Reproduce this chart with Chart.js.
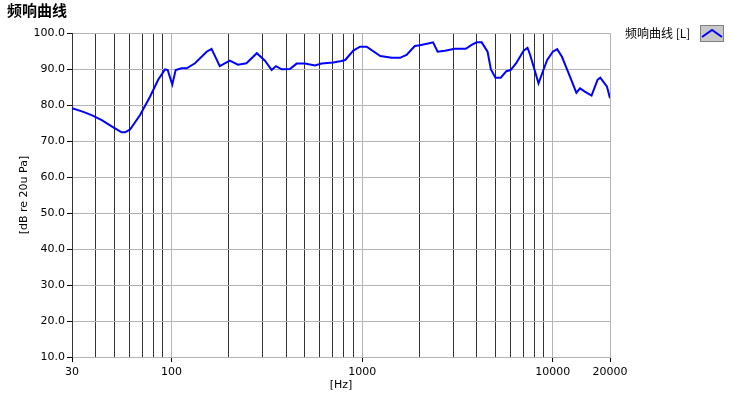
<!DOCTYPE html>
<html lang="zh">
<head>
<meta charset="UTF-8">
<title>频响曲线</title>
<script src="https://cdn.jsdelivr.net/npm/chart.js@4/dist/chart.umd.min.js"></script>
<style>
  html, body { margin: 0; padding: 0; background: #fff; }
  #wrap { width: 739px; height: 397px; position: relative; }
</style>
</head>
<body>
<div id="wrap"><canvas id="grafico"></canvas></div>
<script>
// dados
var freqs = [30, 34.4, 38, 43, 49.4, 54.7, 57, 60.5, 68.3, 77, 85, 92.3, 95.4, 100.8, 105, 112.8, 120, 132.6, 152.7,
  162, 179, 202, 223, 247, 280, 309, 335, 353, 378, 418, 453, 500, 566, 612, 705, 779,
  815, 899, 975, 1056, 1246, 1432, 1580, 1710, 1890, 2010, 2220, 2357, 2490, 2720, 3060, 3500, 3756, 3993,
  4240, 4554, 4740, 5010, 5340, 5718, 6015, 6435, 7040, 7380, 7620, 8040, 8430, 8880, 9360, 10020, 10560,
  11190, 12030, 12630, 13320, 13920, 14760, 16000, 17200, 17780, 19290, 20000]
var spl = [79.1, 78.1, 77.2, 75.8, 73.8, 72.4, 72.4, 73.2, 77.2, 82.3, 87.0, 89.9, 89.7, 85.7, 89.7, 90.2, 90.2, 91.6, 94.8,
  95.6, 90.8, 92.3, 91.2, 91.6, 94.4, 92.3, 89.7, 90.8, 89.9, 90.0, 91.5, 91.5, 91.0, 91.5, 91.8, 92.2,
  92.5, 95.1, 96.2, 96.2, 93.6, 93.1, 93.1, 93.9, 96.4, 96.6, 97.1, 97.4, 94.8, 95.1, 95.6, 95.6, 96.7, 97.4,
  97.4, 94.8, 89.9, 87.6, 87.6, 89.4, 89.7, 91.6, 95.1, 95.9, 93.9, 89.7, 86.0, 89.3, 92.5, 94.8, 95.5,
  93.4, 89.3, 86.5, 83.4, 84.6, 83.7, 82.6, 87.0, 87.6, 85.1, 81.9]

var grade_x = [30, 40, 50, 60, 70, 80, 90, 100, 200, 300, 400, 500, 600, 700, 800, 900, 1000,
  2000, 3000, 4000, 5000, 6000, 7000, 8000, 9000, 10000, 20000]
var rotulos_x = [30, 100, 1000, 10000, 20000]
var decadas = [100, 1000, 10000, 20000]

var titulo = '频响曲线'
var nome_serie = '频响曲线 [L]'

var pontos = []
for (var i = 0; i < freqs.length; i++) {
  pontos.push({ x: freqs[i], y: spl[i] })
}

// título e legenda desenhados à mão
const extras = {
  id: 'extras',
  afterDraw(chart) {
    const ctx = chart.ctx
    ctx.save()
    ctx.fillStyle = '#000'
    ctx.textBaseline = 'middle'
    ctx.font = 'bold 15px "Noto Sans CJK SC"'
    ctx.fillText(titulo, 7, 10)
    ctx.font = '12px "Noto Sans CJK SC"'
    ctx.fillText(nome_serie, 625, 33)
    // caixinha da legenda
    ctx.fillStyle = '#c8c8c8'
    ctx.fillRect(700, 25, 24, 17)
    ctx.strokeStyle = '#808080'
    ctx.lineWidth = 1
    ctx.strokeRect(700.5, 25.5, 23, 16)
    ctx.strokeStyle = '#0000ff'
    ctx.lineWidth = 2
    ctx.beginPath()
    ctx.moveTo(702, 37)
    ctx.lineTo(712, 30)
    ctx.lineTo(722, 37)
    ctx.stroke()
    ctx.restore()
  }
}

const config = {
  type: 'line',
  data: {
    datasets: [{
      data: pontos,
      borderColor: '#0000ff',
      borderWidth: 2,
      pointRadius: 0,
      tension: 0,
      fill: false
    }]
  },
  options: {
    responsive: false,
    animation: false,
    layout: { padding: { left: 0, top: 33, right: 129, bottom: 0 } },
    plugins: { legend: { display: false }, tooltip: { enabled: false } },
    scales: {
      x: {
        type: 'logarithmic',
        min: 30,
        max: 20000,
        afterBuildTicks: function (scale) {
          scale.ticks = grade_x.map(function (v) { return { value: v } })
        },
        afterFit: function (scale) { scale.height = 40 },
        ticks: {
          autoSkip: false,
          maxRotation: 0,
          padding: 4,
          color: '#000',
          font: { family: 'DejaVu Sans', size: 11 },
          callback: function (v) { return rotulos_x.indexOf(v) >= 0 ? String(v) : '' }
        },
        grid: {
          tickLength: 5,
          color: function (c) {
            var v = c.tick ? c.tick.value : 0
            return decadas.indexOf(v) >= 0 ? '#b4b4b4' : '#333333'
          },
          tickColor: function (c) {
            var v = c.tick ? c.tick.value : 0
            return rotulos_x.indexOf(v) >= 0 ? '#000' : 'rgba(0,0,0,0)'
          }
        },
        border: { color: '#b4b4b4' },
        title: {
          display: true,
          text: '[Hz]',
          color: '#000',
          font: { family: 'DejaVu Sans', size: 11 },
          padding: { top: 0, bottom: 5 }
        }
      },
      y: {
        min: 10,
        max: 100,
        afterFit: function (scale) { scale.width = 72 },
        ticks: {
          stepSize: 10,
          padding: 2,
          color: '#000',
          font: { family: 'DejaVu Sans', size: 11 },
          callback: function (v) { return v.toFixed(1) }
        },
        grid: {
          color: '#b4b4b4',
          tickLength: 5,
          tickColor: '#000'
        },
        border: { color: '#333333' },
        title: {
          display: true,
          text: '[dB re 20u Pa]',
          color: '#000',
          font: { family: 'DejaVu Sans', size: 11 },
          padding: { top: 18, bottom: 0 }
        }
      }
    }
  },
  plugins: [extras]
}

const canvas = document.getElementById('grafico')
canvas.width = 739
canvas.height = 397
const myChart = new Chart(canvas, config)
</script>
</body>
</html>
